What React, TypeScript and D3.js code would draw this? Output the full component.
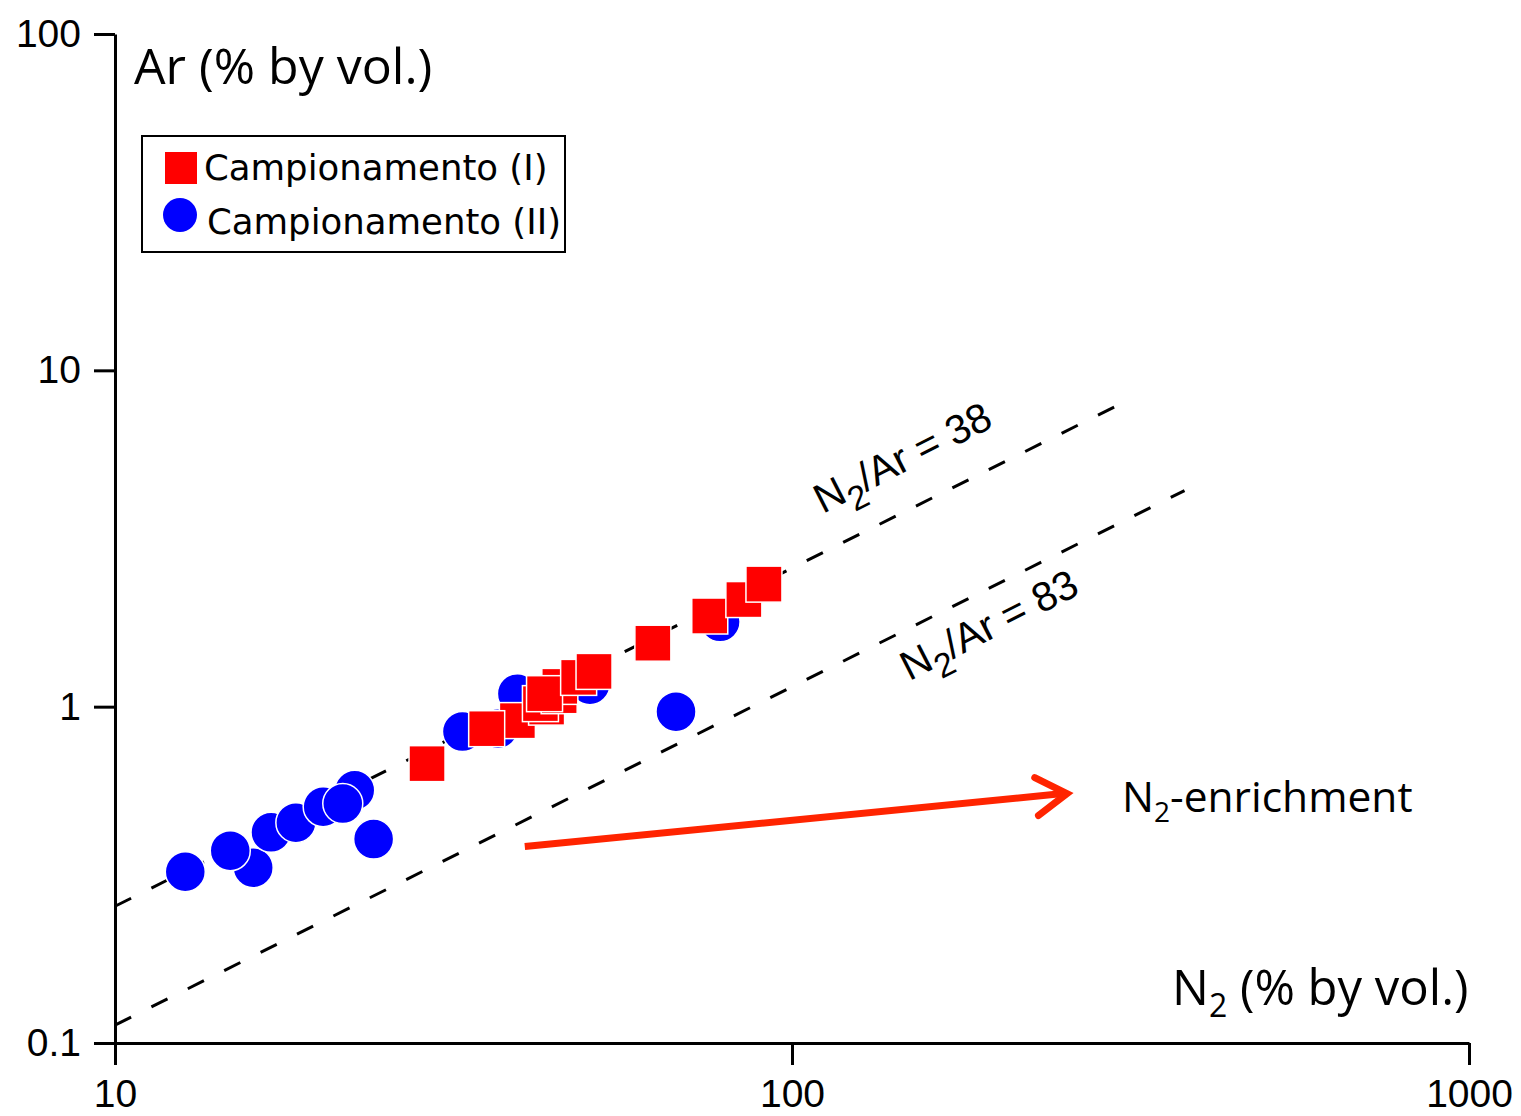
import * as d3 from "d3";
import { useEffect, useRef } from "react";

// N2 vs Ar (% by vol.), log-log, two sampling campaigns

// Campionamento (I) - red squares (draw order matters for overlaps)
const campI_N2 = [28.9, 39.3, 35.4, 43.4, 42.5, 45.3, 45.4, 43.1, 48.4, 51.0, 62.3, 75.6, 84.9, 90.9];
const campI_Ar = [0.677, 0.909, 0.86, 0.997, 1.021, 1.078, 1.149, 1.093, 1.222, 1.273, 1.544, 1.86, 2.082, 2.314];

// Campionamento (II) - blue circles
const campII_N2 = [12.7, 16.0, 14.8, 17.0, 18.5, 22.6, 20.3, 21.7, 24.1, 32.6, 36.8, 39.3, 50.3, 67.4, 78.3];
const campII_Ar = [0.323, 0.332, 0.373, 0.423, 0.452, 0.564, 0.504, 0.515, 0.404, 0.843, 0.86, 1.093, 1.162, 0.966, 1.788];

// reference N2/Ar lines (end points as drawn) and their labels
const refLabels = ["38", "83"];
const refN2Start = [10, 10];
const refN2End = [300, 380];
const refArStart = [0.255, 0.113];
const refArEnd = [7.8, 4.39];
const refLabelN2 = [111, 149];
const refLabelAr = [3.74, 1.19];

// N2-enrichment arrow
const arrowN2 = [40.3, 254.8];
const arrowAr = [0.384, 0.5515];

// ticks
const xMajor = [10, 100, 1000];
const xTickLabels = ["10", "100", "1000"];
const yMajor = [0.1, 1, 10, 100];
const yTickLabels = ["0.1", "1", "10", "100"];

const W = 1521;
const H = 1116;

const App = () => {
  const ref = useRef<HTMLDivElement>(null);

  useEffect(() => {
    d3.select(ref.current).select("svg").remove();

    const svg = d3
      .select(ref.current)
      .append("svg")
      .attr("width", W)
      .attr("height", H)
      .style("position", "absolute")
      .style("left", "0px")
      .style("top", "0px")
      .style("background", "#fff");

    const x = d3.scaleLog().domain([10, 1000]).range([115, 1469]);
    const y = d3.scaleLog().domain([0.1, 100]).range([1043, 34]);

    const minor = (decades: number[]) =>
      decades.flatMap((d) => d3.range(2, 10).map((k) => d * k));
    const xMinor = minor([10, 100]);
    const yMinor = minor([0.1, 1, 10]);

    const tickFont = "'Liberation Sans', Arial, sans-serif";

    // x axis
    const gx = svg.append("g").attr("transform", `translate(0,${y(0.1)})`);
    gx.call(
      d3.axisBottom(x).tickValues(xMinor).tickSize(11).tickSizeOuter(0).tickFormat(() => "")
    );
    gx.call(
      d3
        .axisBottom(x)
        .tickValues(xMajor)
        .tickSize(22)
        .tickSizeOuter(0)
        .tickPadding(14)
        .tickFormat((d, i) => xTickLabels[i])
    );

    // y axis
    const gy = svg.append("g").attr("transform", `translate(${x(10)},0)`);
    gy.call(
      d3.axisLeft(y).tickValues(yMinor).tickSize(11).tickSizeOuter(0).tickFormat(() => "")
    );
    gy.call(
      d3
        .axisLeft(y)
        .tickValues(yMajor)
        .tickSize(21)
        .tickSizeOuter(0)
        .tickPadding(13)
        .tickFormat((d, i) => yTickLabels[i])
    );

    [gx, gy].forEach((g) => {
      g.selectAll(".domain").attr("stroke", "#000").attr("stroke-width", 3);
      g.selectAll(".tick line").attr("stroke", "#000").attr("stroke-width", 3);
      g.selectAll(".tick text")
        .attr("fill", "#000")
        .style("font-family", tickFont)
        .style("font-size", "39px");
    });

    // reference lines
    const line = d3
      .line<[number, number]>()
      .x((d) => x(d[0]))
      .y((d) => y(d[1]));
    refLabels.forEach((lab, i) => {
      svg
        .append("path")
        .attr(
          "d",
          line([
            [refN2Start[i], refArStart[i]],
            [refN2End[i], refArEnd[i]],
          ])
        )
        .attr("fill", "none")
        .attr("stroke", "#000")
        .attr("stroke-width", 3)
        .attr("stroke-dasharray", "18 22.7");

      const angle =
        (Math.atan2(
          y(refArEnd[i]) - y(refArStart[i]),
          x(refN2End[i]) - x(refN2Start[i])
        ) *
          180) /
        Math.PI;
      const t = svg
        .append("text")
        .attr(
          "transform",
          `translate(${x(refLabelN2[i])},${y(refLabelAr[i])}) rotate(${angle - 0.5})`
        )
        .style("font-family", tickFont)
        .style("font-size", "41px")
        .attr("fill", "#000");
      t.append("tspan").text("N");
      t.append("tspan").attr("dy", 13).style("font-size", "34px").text("2");
      t.append("tspan").attr("dy", -13).text(`/Ar = ${lab}`);
    });

    // Campionamento (II) circles
    svg
      .append("g")
      .selectAll("circle")
      .data(campII_N2)
      .join("circle")
      .attr("cx", (d) => x(d))
      .attr("cy", (d, i) => y(campII_Ar[i]))
      .attr("r", 20)
      .attr("fill", "#0000ff")
      .attr("stroke", "#fff")
      .attr("stroke-width", 1.5);

    // Campionamento (I) squares
    const s = 36;
    svg
      .append("g")
      .selectAll("rect")
      .data(campI_N2)
      .join("rect")
      .attr("x", (d) => x(d) - s / 2)
      .attr("y", (d, i) => y(campI_Ar[i]) - s / 2)
      .attr("width", s)
      .attr("height", s)
      .attr("fill", "#ff0000")
      .attr("stroke", "#fff")
      .attr("stroke-width", 1.5);

    // arrow
    const ax0 = x(arrowN2[0]);
    const ay0 = y(arrowAr[0]);
    const ax1 = x(arrowN2[1]);
    const ay1 = y(arrowAr[1]);
    const red = "#ff2400";
    svg
      .append("line")
      .attr("x1", ax0)
      .attr("y1", ay0)
      .attr("x2", ax1 - 4)
      .attr("y2", ay1)
      .attr("stroke", red)
      .attr("stroke-width", 7);
    const dir = Math.atan2(ay1 - ay0, ax1 - ax0);
    const head = 36;
    const spread = (32 * Math.PI) / 180;
    const p1: [number, number] = [
      ax1 - head * Math.cos(dir - spread),
      ay1 - head * Math.sin(dir - spread),
    ];
    const p2: [number, number] = [
      ax1 - head * Math.cos(dir + spread),
      ay1 - head * Math.sin(dir + spread),
    ];
    svg
      .append("path")
      .attr("d", `M${p1[0]},${p1[1]}L${ax1},${ay1}L${p2[0]},${p2[1]}`)
      .attr("fill", "none")
      .attr("stroke", red)
      .attr("stroke-width", 7)
      .attr("stroke-linecap", "round")
      .attr("stroke-linejoin", "miter");

    const titleFont = "'Open Sans', 'Noto Sans', sans-serif";

    // N2-enrichment label
    const en = svg
      .append("text")
      .attr("x", 1122)
      .attr("y", 812)
      .style("font-family", titleFont)
      .style("font-size", "42.5px")
      .attr("fill", "#000");
    en.append("tspan").text("N");
    en.append("tspan").attr("dy", 10).style("font-size", "28px").text("2");
    en.append("tspan").attr("dy", -10).text("-enrichment");

    // axis titles
    svg
      .append("text")
      .attr("x", 134)
      .attr("y", 84)
      .style("font-family", titleFont)
      .style("font-size", "50px")
      .attr("fill", "#000")
      .text("Ar (% by vol.)");

    const xt = svg
      .append("text")
      .attr("x", 1172)
      .attr("y", 1005)
      .style("font-family", titleFont)
      .style("font-size", "49px")
      .attr("fill", "#000");
    xt.append("tspan").text("N");
    xt.append("tspan").attr("dy", 12).style("font-size", "32px").text("2");
    xt.append("tspan").attr("dy", -12).text(" (% by vol.)");

    // legend
    const lg = svg.append("g");
    lg.append("rect")
      .attr("x", 142)
      .attr("y", 136)
      .attr("width", 423)
      .attr("height", 116)
      .attr("fill", "#fff")
      .attr("stroke", "#000")
      .attr("stroke-width", 2);
    lg.append("rect")
      .attr("x", 165)
      .attr("y", 152)
      .attr("width", 32)
      .attr("height", 32)
      .attr("fill", "#ff0000");
    lg.append("circle").attr("cx", 180).attr("cy", 215).attr("r", 17).attr("fill", "#0000ff");
    const legendFont = "'DejaVu Sans', Verdana, sans-serif";
    lg.append("text")
      .attr("x", 204)
      .attr("y", 180)
      .style("font-family", legendFont)
      .style("font-size", "35.5px")
      .attr("fill", "#000")
      .text("Campionamento (I)");
    lg.append("text")
      .attr("x", 207)
      .attr("y", 234)
      .style("font-family", legendFont)
      .style("font-size", "35.5px")
      .attr("fill", "#000")
      .text("Campionamento (II)");
  }, []);

  return <div ref={ref} />;
};

export default App;
